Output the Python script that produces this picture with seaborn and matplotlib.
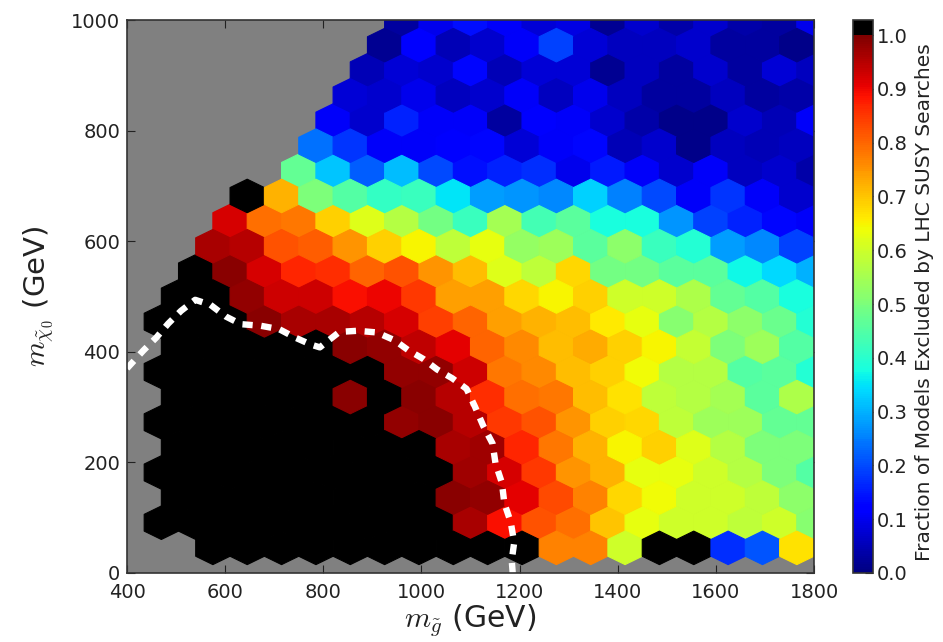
import numpy as np
import matplotlib
matplotlib.use('Agg')
import matplotlib.pyplot as plt
from matplotlib.colors import ListedColormap
import seaborn as sns

# fraction excluded per hexagon, bottom row first; each row has its first column index
row_01 = [1, 1, 1, 1, 1, 1, 1, 1, 1, 1, .77, .77, .60, 1, 1, .17, .21, .67]
row_02 = [1, 1, 1, 1, 1, 1, 1, 1, 1, .96, .89, .82, .79, .70, .63, .60, .60, .58, .60, .51]
row_03 = [1, 1, 1, 1, 1, 1, 1, 1, .99, .98, .91, .83, .77, .68, .64, .60, .60, .58, .52]
row_04 = [1, 1, 1, 1, 1, 1, 1, 1, 1, .97, .92, .85, .75, .72, .63, .63, .60, .57, .50, .45]
row_05 = [1, 1, 1, 1, 1, 1, 1, 1, .96, .97, .87, .78, .72, .65, .69, .62, .57, .50, .50]
row_06 = [1, 1, 1, 1, 1, 1, 1, .98, .99, .95, .85, .82, .75, .69, .68, .58, .54, .54, .47, .47]
row_07 = [1, 1, 1, 1, 1, .99, 1, .99, .95, .86, .79, .78, .71, .67, .58, .57, .55, .46, .56]
row_08 = [1, 1, 1, 1, 1, 1, 1, .98, .98, .93, .78, .76, .71, .69, .64, .57, .57, .45, .46, .39]
row_09 = [1, 1, 1, 1, 1, .99, .98, .94, .91, .80, .76, .71, .73, .69, .65, .59, .50, .54, .45]
row_10 = [1, 1, 1, .99, .96, .96, .95, .92, .84, .80, .74, .72, .71, .66, .63, .51, .57, .52, .48, .39]
row_11 = [1, 1, .98, .93, .93, .89, .90, .85, .74, .74, .68, .65, .69, .60, .60, .56, .47, .45, .38]
row_12 = [1, .99, .92, .87, .86, .80, .82, .75, .71, .62, .58, .68, .49, .49, .46, .46, .37, .34, .30]
row_13 = [.96, .95, .82, .81, .75, .69, .65, .58, .63, .53, .54, .46, .52, .42, .39, .28, .26, .19]
row_14 = [.92, .79, .78, .69, .62, .57, .49, .42, .55, .43, .46, .38, .38, .27, .19, .16, .13, .11]
row_15 = [1, .72, .50, .45, .41, .42, .35, .28, .27, .26, .33, .25, .20, .11, .18, .11, .07]
row_16 = [.47, .32, .22, .31, .20, .14, .16, .17, .10, .15, .11, .07, .11, .06, .07, .04]
row_17 = [.24, .18, .11, .11, .12, .13, .08, .11, .13, .05, .07, .01, .06, .05, .06]
row_18 = [.11, .07, .16, .11, .11, .03, .12, .11, .07, .04, .01, .01, .07, .05, .11]
row_19 = [.08, .07, .10, .06, .07, .11, .06, .10, .06, .03, .03, .06, .03, .04]
row_20 = [.05, .08, .07, .13, .05, .08, .08, .02, .06, .03, .07, .03, .08, .06]
row_21 = [.02, .12, .05, .07, .11, .19, .08, .06, .06, .07, .03, .03, .01]
row_22 = [.03, .10, .14, .11, .08, .09, .02, .07, .04, .07, .04, .03, .10]

rows = [row_01, row_02, row_03, row_04, row_05, row_06, row_07, row_08, row_09, row_10, row_11,
        row_12, row_13, row_14, row_15, row_16, row_17, row_18, row_19, row_20, row_21, row_22]
first_col = [2, 1, 1, 1, 1, 1, 1, 1, 1, 1, 1, 2, 2, 3, 3, 5, 5, 6, 6, 7, 7, 8]

# dashed exclusion contour
limit_x = [400, 433, 460, 484, 510, 539, 570, 601, 632, 673, 710, 742, 775, 793, 807, 833, 870, 909,
           945, 973, 1004, 1032, 1063, 1092, 1109, 1126, 1145, 1151, 1164, 1169, 1182, 1189, 1184, 1186]
limit_y = [370, 402, 426, 451, 474, 494, 485, 464, 450, 447, 441, 426, 413, 408, 418, 436, 438, 435,
           421, 403, 387, 368, 352, 333, 301, 266, 234, 198, 163, 126, 92, 55, 23, 0]

cbar_ticks = [0.0, 0.1, 0.2, 0.3, 0.4, 0.5, 0.6, 0.7, 0.8, 0.9, 1.0]

# bin centres of the hexagonal grid, 70 GeV wide and 1000/22 GeV per row
gluino, neutralino, fraction = [], [], []
for r, (start, vals) in enumerate(zip(first_col, rows), start=1):
    for k, v in enumerate(vals, start=start):
        gluino.append(400 + 70 * k + (35 if r % 2 else 0))
        neutralino.append(r * 1000 / 22)
        fraction.append(v)

sns.set_style('white')
plt.rcParams['font.family'] = ['DejaVu Sans']
plt.rcParams['mathtext.fontset'] = 'cm'

# jet up to 1.0, black above it
cmap = ListedColormap(list(plt.get_cmap('jet')(np.linspace(0, 1, 249))) + [(0, 0, 0, 1)] * 7)

fig = plt.figure(figsize=(9.43, 6.42), dpi=100)
ax = fig.add_axes([127 / 943, 1 - 573 / 642, 687 / 943, 553 / 642])
ax.set_facecolor('#808080')
hb = ax.hexbin(gluino, neutralino, C=fraction, gridsize=20, extent=(400, 1800, 0, 1000),
               cmap=cmap, vmin=0, vmax=1.028, linewidths=0.8)
sns.lineplot(x=limit_x, y=limit_y, sort=False, estimator=None, color='white', lw=4.6,
             linestyle=(0, (1.6, 1.35)), ax=ax)
ax.set_xlim(400, 1800)
ax.set_ylim(0, 1000)
ax.set_xticks(range(400, 1801, 200))
ax.set_yticks(range(0, 1001, 200))
ax.tick_params(direction='in', length=6, width=0.8, color='#222222', labelcolor='#222222',
               labelsize=14, top=True, right=True, bottom=True, left=True, pad=5)
ax.tick_params(axis='x', pad=7)
ax.set_xlabel(r'$m_{\tilde{g}}$ (GeV)', fontsize=21.5, color='#222222', labelpad=0)
ax.set_ylabel(r'$m_{\tilde{\chi}_0}$ (GeV)', fontsize=21, color='#222222', labelpad=11)
for s in ax.spines.values():
    s.set_visible(True)
    s.set_color('#333333')
    s.set_linewidth(1.2)

cax = fig.add_axes([853 / 943, 1 - 573 / 642, 20 / 943, 553 / 642])
cb = fig.colorbar(hb, cax=cax, ticks=cbar_ticks)
cb.ax.tick_params(direction='in', length=6, width=0.8, color='#222222', labelcolor='#222222',
                  labelsize=14, right=True, pad=3)
cb.outline.set_edgecolor('#333333')
cb.outline.set_linewidth(1.2)
cb.set_label('Fraction of Models Excluded by LHC SUSY Searches', fontsize=14.5, color='#222222', labelpad=5)
cb.ax.yaxis.label.set_y(0.49)

fig.savefig('out.png', dpi=100)
